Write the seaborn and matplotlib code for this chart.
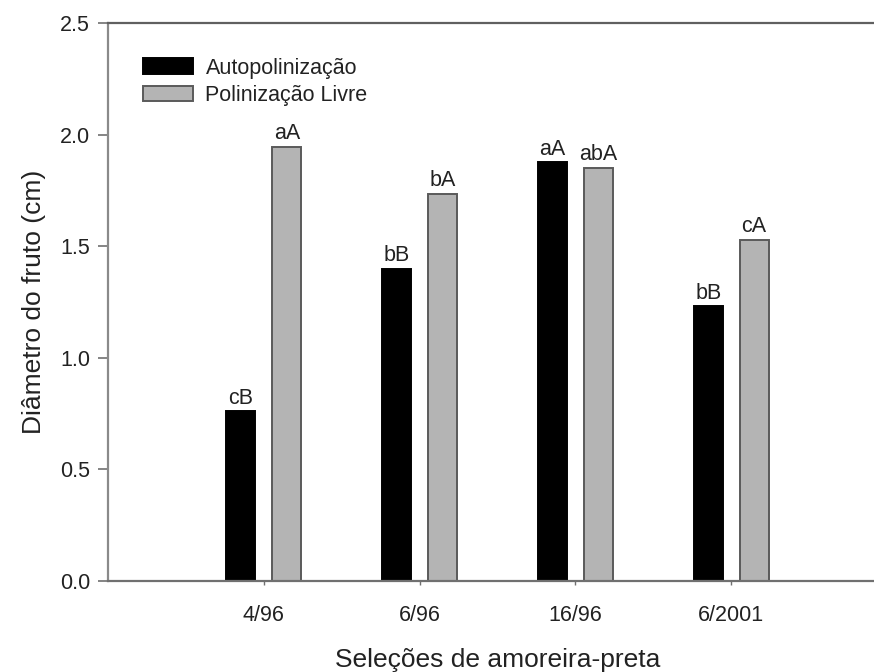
import matplotlib
matplotlib.use("Agg")
import matplotlib.pyplot as plt
import pandas as pd
import seaborn as sns

# Fruit diameter by blackberry selection and pollination type
selections = ["4/96", "6/96", "16/96", "6/2001"]
treatments = ["Autopolinização", "Polinização Livre"]
auto_values = [0.76, 1.40, 1.875, 1.23]
livre_values = [1.945, 1.735, 1.852, 1.53]
auto_letters = ["cB", "bB", "aA", "bB"]
livre_letters = ["aA", "bA", "abA", "cA"]

df = pd.DataFrame({
    "selecao": selections * 2,
    "tratamento": [treatments[0]] * 4 + [treatments[1]] * 4,
    "diametro": auto_values + livre_values,
})

sns.set_style("ticks")
plt.rcParams["font.family"] = ["Liberation Sans", "DejaVu Sans"]

fill_colors = ["#000000", "#b4b4b4"]
edge_colors = ["#000000", "#5a5a5a"]
small = 15.5
big = 19

fig = plt.figure(figsize=(8.74, 6.72), dpi=100)
ax = fig.add_axes([108 / 874, 91 / 672, 779 / 874, 558 / 672])

sns.barplot(data=df, x="selecao", y="diametro", hue="tratamento",
            order=selections, hue_order=treatments, palette=fill_colors,
            width=0.59, gap=0.37, ax=ax, errorbar=None, saturation=1)

for cont, ec, letters in zip(ax.containers, edge_colors, [auto_letters, livre_letters]):
    for bar in cont:
        bar.set_edgecolor(ec)
        bar.set_linewidth(1.4)
    ax.bar_label(cont, labels=letters, padding=2, fontsize=small, color="#222222")

ax.set_xlim(-1, 4)
ax.set_ylim(0, 2.5)
ax.set_yticks([0.0, 0.5, 1.0, 1.5, 2.0, 2.5])
ax.set_yticklabels(["0.0", "0.5", "1.0", "1.5", "2.0", "2.5"])

ax.set_xlabel("Seleções de amoreira-preta", fontsize=big, color="#222222", labelpad=16)
ax.set_ylabel("Diâmetro do fruto (cm)", fontsize=big, color="#222222", labelpad=10)

ax.tick_params(axis="y", direction="out", length=7, width=1.2, color="#707070",
               labelsize=small, labelcolor="#222222", pad=6)
ax.tick_params(axis="x", direction="out", length=3, width=1.0, color="#707070",
               labelsize=small, labelcolor="#222222", pad=14)

for side in ["left", "bottom", "top"]:
    ax.spines[side].set_visible(True)
    ax.spines[side].set_linewidth(1.6)
ax.spines["left"].set_color("#8a8a8a")
ax.spines["bottom"].set_color("#707070")
ax.spines["top"].set_color("#606060")
ax.spines["right"].set_visible(False)

leg = ax.legend(loc="upper left", bbox_to_anchor=(0.045, 0.938), frameon=False,
                fontsize=small, handlelength=2.3, handleheight=0.75,
                labelspacing=0.3, borderpad=0, borderaxespad=0, handletextpad=0.6)
for handle, ec in zip(leg.legend_handles, edge_colors):
    handle.set_edgecolor(ec)
    handle.set_linewidth(1.4)
for t in leg.get_texts():
    t.set_color("#222222")

fig.savefig("out.png", dpi=100)
